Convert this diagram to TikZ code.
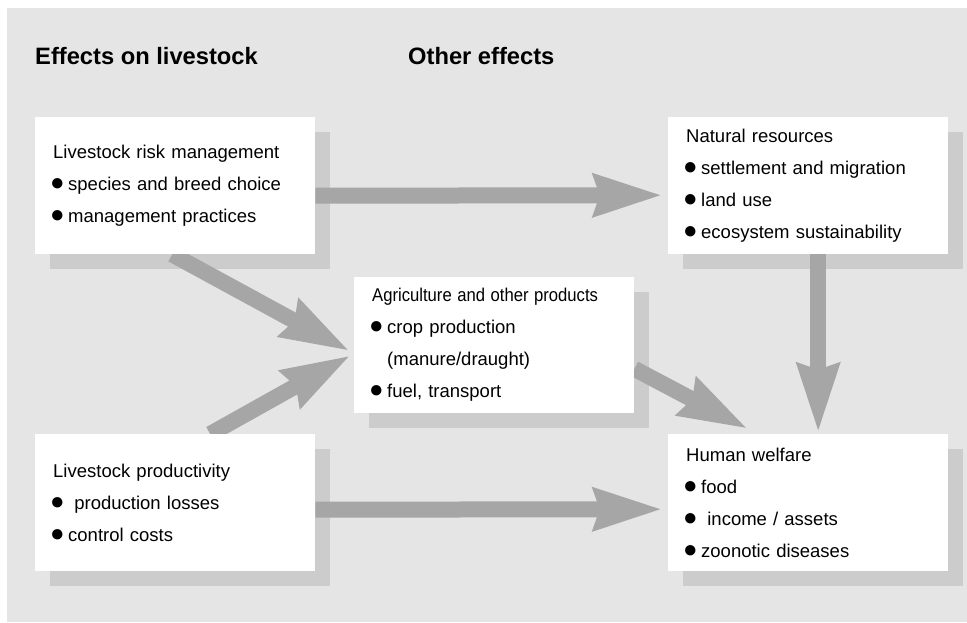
\documentclass[tikz,border=0pt]{standalone}
\usepackage{fontspec}
\setmainfont{Liberation Sans}
\usetikzlibrary{arrows.meta}

\definecolor{bggray}{RGB}{229,229,229}
\definecolor{shadegray}{RGB}{204,204,204}
\definecolor{arrowgray}{RGB}{166,166,166}

\pgfdeclarelayer{back}
\pgfdeclarelayer{shade}
\pgfdeclarelayer{flow}
\pgfsetlayers{back,shade,flow,main}

\newcommand{\bul}{\makebox[15pt][l]{\kern-3pt\scalebox{1.3}{●}}}
\newcommand{\boxshade}[1]{\fill[shadegray] ([shift={(15,15)}]#1.north west) rectangle ([shift={(15,15)}]#1.south east);}

\tikzset{
	infobox/.style={fill=white, anchor=north west, minimum width=280pt,
		minimum height=137pt, text width=244pt, inner xsep=18pt, inner ysep=0pt,
		align=left, font=\fontsize{18.5}{32}\selectfont},
	flowarrow/.style={draw=arrowgray, line width=16pt,
		-{Stealth[length=68pt,width=40pt,inset=5pt]}},
	heading/.style={anchor=base west, inner sep=0pt,
		font=\fontsize{23.7}{28}\selectfont\bfseries},
}

\begin{document}
\begin{tikzpicture}[x=1pt, y=-1pt]
	\useasboundingbox (0,0) rectangle (967,622);
	% Hintergrund
	\begin{pgfonlayer}{back}
		\fill[bggray] (7,8) rectangle (967,622);
	\end{pgfonlayer}
	% Ueberschriften
	\node[heading] (hlive) at (35,64) {Effects on livestock};
	\node[heading] (hother) at (408,64) {Other effects};
	% Kaesten
	\node[infobox] (risk) at (35,117) {Livestock risk management\\
		\bul species and breed choice\\
		\bul management practices};
	\node[infobox] (prod) at (35,434) {Livestock productivity\\
		\bul\ production losses\\
		\bul control costs};
	\node[infobox, minimum height=136pt] (agri) at (354,277) {\scalebox{0.9}[1]{Agriculture and other products}\\
		\bul crop production\\
		\hspace*{15pt}(manure/draught)\\
		\bul fuel, transport};
	\node[infobox] (nat) at (668,117) {Natural resources\\
		\bul settlement and migration\\
		\bul land use\\
		\bul ecosystem sustainability};
	\node[infobox] (human) at (668,434) {Human welfare\\
		\bul food\\
		\bul\ income / assets\\
		\bul zoonotic diseases};
	% Schatten
	\begin{pgfonlayer}{shade}
		\boxshade{risk}
		\boxshade{prod}
		\boxshade{agri}
		\boxshade{nat}
		\boxshade{human}
	\end{pgfonlayer}
	% Pfeile
	\begin{pgfonlayer}{flow}
		\draw[flowarrow] ([shift={(0,10)}]risk.east) -- ([shift={(-5,9.5)}]nat.west);
		\draw[flowarrow] ([shift={(0,7)}]prod.east) -- ([shift={(-5,6.5)}]human.west);
		\draw[flowarrow] ([shift={(10,0)}]nat.south) -- ([shift={(10,-1)}]human.north);
		\draw[flowarrow] ([shift={(-3,0)}]risk.south) -- ([shift={(-4,6)}]agri.west);
		\draw[flowarrow] ([shift={(35,0)}]prod.north) -- ([shift={(-3,10)}]agri.west);
		\draw[flowarrow] ([shift={(0,23.6)}]agri.east) -- ([shift={(-60,-5)}]human.north);
	\end{pgfonlayer}
\end{tikzpicture}
\end{document}
